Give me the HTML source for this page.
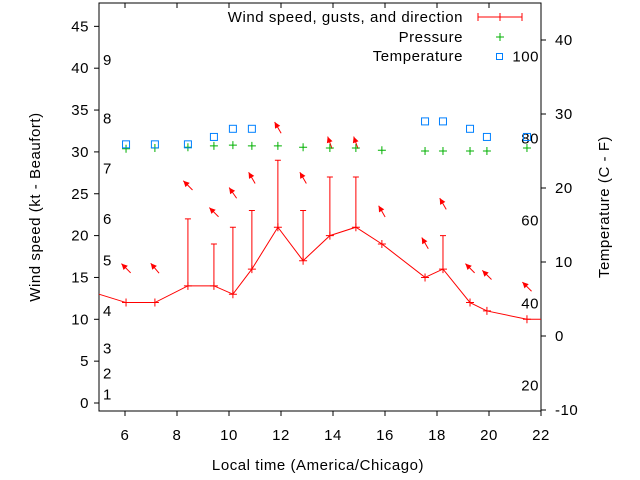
<!DOCTYPE html>
<html><head><meta charset="utf-8"><style>
body{margin:0;background:#fff}
svg{display:block;font-family:"Liberation Sans",sans-serif;font-size:14px}
.wide{font-size:15px;letter-spacing:0.55px}
</style></head><body>
<svg id="c" width="640" height="480">
<rect x="0" y="0" width="640" height="480" fill="#fff"/>
</svg>
<script>
const hours=[5,6.04,7.15,8.42,9.42,10.15,10.88,11.88,12.85,13.88,14.88,15.88,17.54,18.23,19.27,19.92,21.46,22];
const speeds=[13,12,12,14,14,13,16,21,17,20,21,19,15,16,12,11,10,10];
const gusts=[null,null,null,22,19,21,23,29,23,27,27,null,null,20,null,null,null,null];
const arrowHours=[6.04,7.15,8.42,9.42,10.15,10.88,11.88,12.85,13.88,14.88,15.88,17.54,18.23,19.27,19.92,21.46];
const arrowLevels=[16.1,16.1,26.0,22.8,25.1,26.9,32.9,26.9,31.1,31.1,22.9,19.1,23.8,16.1,15.3,13.9];
const arrowDirs=[135,140,135,135,145,150,150,150,160,160,150,150,150,135,135,135];
const pHours=[6.04,7.15,8.42,9.42,10.15,10.88,11.88,12.85,13.88,14.88,15.88,17.54,18.23,19.27,19.92,21.46];
const pressure=[25.3,25.4,25.5,25.7,25.8,25.7,25.7,25.5,25.4,25.4,25.1,25.0,25.0,25.0,25.0,25.4];
const tHours=[6.04,7.15,8.42,9.42,10.15,10.88,17.54,18.23,19.27,19.92,21.46];
const temps=[25.9,25.9,25.9,26.9,28.0,28.0,29.0,29.0,28.0,26.9,26.9];
const xTicks=[6,8,10,12,14,16,18,20,22];
const yTicks=[0,5,10,15,20,25,30,35,40,45];
const rTicks=[-10,0,10,20,30,40];
const beaufort=[[1,1],[2,3.5],[3,6.5],[4,11],[5,17],[6,22],[7,28],[8,34],[9,41]];
const fLabels=[[20,-6.7],[40,4.4],[60,15.6],[80,26.7],[100,37.8]];
const L=99,R=541,T=3,B=411;
const xs=h=>L+(h-5)*26, yl=v=>403-v*8.37, yr=c=>410-(c+10)*7.4;
const svg=document.getElementById('c');const NS='http://www.w3.org/2000/svg';
function mk(t,a,p){const e=document.createElementNS(NS,t);for(const k in a)e.setAttribute(k,a[k]);(p||svg).appendChild(e);return e;}
function txt(x,y,s,anch,name,cls){const e=mk('text',{x:x,y:y,'text-anchor':anch||'middle'});e.textContent=s;if(cls)e.setAttribute('class',cls);

return e;}
const frame=mk('rect',{x:L,y:T,width:R-L,height:B-T,fill:'none',stroke:'#000','stroke-width':1});


xTicks.forEach(h=>{const x=xs(h);mk('line',{x1:x,y1:B,x2:x,y2:B+5,stroke:'#000'});mk('line',{x1:x,y1:T,x2:x,y2:T+5,stroke:'#000'});txt(x,440,String(h),'middle','x-tick-label','wide');});
yTicks.forEach(v=>{const y=yl(v);mk('line',{x1:L-5,y1:y,x2:L,y2:y,stroke:'#000'});txt(89,y+5,String(v),'end','y-tick-label','wide');});
rTicks.forEach(c=>{const y=yr(c);mk('line',{x1:R,y1:y,x2:R+5,y2:y,stroke:'#000'});txt(555,y+5,String(c),'start','right-tick-label','wide');});
beaufort.forEach(b=>txt(103,yl(b[1])+5,String(b[0]),'start','beaufort-label','wide'));
fLabels.forEach(f=>txt(539,yr(f[1])+5,String(f[0]),'end','fahrenheit-label','wide'));
txt(318,470,'Local time (America/Chicago)','middle','x-axis-title','wide');
const yt=txt(0,0,'Wind speed (kt - Beaufort)','middle','y-axis-title','wide');yt.setAttribute('transform','translate(40,207) rotate(-90)');
const rt=txt(0,0,'Temperature (C - F)','middle','right-axis-title','wide');rt.setAttribute('transform','translate(609,207) rotate(-90)');
let pts=hours.map((h,i)=>xs(h)+','+yl(speeds[i])).join(' ');
const wl=mk('polyline',{points:pts,fill:'none',stroke:'#f00','stroke-width':1});


hours.forEach((h,i)=>{if(i==0||i==hours.length-1)return;const x=xs(h),y=yl(speeds[i]);
mk('path',{d:`M${x-4},${y}H${x+4}M${x},${y-4}V${y+4}`,stroke:'#f00'});
if(gusts[i]!=null){const g=yl(gusts[i]);const e=mk('path',{d:`M${x},${y}V${g}M${x-3},${g}H${x+3}`,stroke:'#f00'});

}});
arrowHours.forEach((h,i)=>{const cx=xs(h),cy=yl(arrowLevels[i]);const a=arrowDirs[i]*Math.PI/180;
const vx=-Math.sin(Math.PI-a), vy=-Math.cos(Math.PI-a);
const hx=cx+vx*6.5, hy=cy+vy*6.5, tx=cx-vx*6.5, ty=cy-vy*6.5;
const px=-vy,py=vx;
const g=mk('g',{});


mk('line',{x1:tx,y1:ty,x2:hx,y2:hy,stroke:'#f00'},g);
mk('polygon',{points:`${hx},${hy} ${hx-vx*6+px*3},${hy-vy*6+py*3} ${hx-vx*6-px*3},${hy-vy*6-py*3}`,fill:'#f00'},g);});
pHours.forEach((h,i)=>{const x=xs(h),y=yr(pressure[i]);const e=mk('path',{d:`M${x-4},${y}H${x+4}M${x},${y-4}V${y+4}`,stroke:'#00b000'});

});
tHours.forEach((h,i)=>{const x=xs(h),y=yr(temps[i]);const e=mk('rect',{x:x-3.5,y:y-3.5,width:7,height:7,fill:'none',stroke:'#0080ff'});

});
txt(463,22,'Wind speed, gusts, and direction','end','legend-wind-label','wide');
mk('path',{d:'M478,17H522M478,13V21M522,13V21M500,13V21',stroke:'#f00'});
txt(463,42,'Pressure','end','legend-pressure-label','wide');
mk('path',{d:'M496,37H504M500,33V41',stroke:'#00b000'});
txt(463,61,'Temperature','end','legend-temperature-label','wide');
mk('rect',{x:496.5,y:53.5,width:6,height:6,fill:'none',stroke:'#0080ff'});
</script>
</body></html>
